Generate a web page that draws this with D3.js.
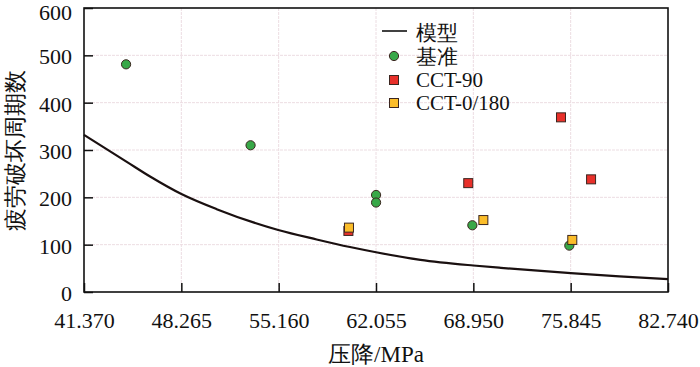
<!DOCTYPE html>
<html>
  <head>
    <title></title>
    <meta charset="UTF-8" />
    <script src="https://cdn.jsdelivr.net/npm/d3@7"></script>
    <style>
      body { margin: 0; background: #fff; }
      svg { font-family: "Liberation Serif", "Times New Roman", serif; }
    </style>
  </head>
  <body>
    <svg width="700" height="367"></svg>
    <script>
      // 数据
      const xTicks = [41.37, 48.265, 55.16, 62.055, 68.95, 75.845, 82.74]
      const yTicks = [0, 100, 200, 300, 400, 500, 600]

      // 模型曲线
      const modelX = [41.37, 44.4, 46.05, 48.27, 50.77, 55.13, 57.85, 60.21, 62.06, 65.2, 68.95, 70.9, 75.85, 79.3, 82.74]
      const modelY = [332, 275, 244, 207, 175, 131, 111, 95, 84, 68, 56, 51, 40, 33, 27]

      // 基准
      const baseX = [44.35, 53.17, 62.06, 62.06, 68.88, 75.75]
      const baseY = [481, 310, 205, 189, 141, 98]
      // CCT-90
      const cct90X = [60.1, 68.59, 75.16, 77.29]
      const cct90Y = [129, 230, 369, 238]
      // CCT-0/180
      const cct0X = [60.14, 69.66, 75.96]
      const cct0Y = [136, 152, 110]

      const marge = { top: 8, left: 84, right: 32, bottom: 75 }
      const svg = d3.select("svg")
      const width = +svg.attr("width") - marge.left - marge.right
      const height = +svg.attr("height") - marge.top - marge.bottom
      const g = svg.append("g").attr("transform", "translate(" + marge.left + "," + marge.top + ")")

      const xScale = d3.scaleLinear().domain([41.37, 82.74]).range([0, width])
      const yScale = d3.scaleLinear().domain([0, 600]).range([height, 0])

      // 网格
      const gridColor = "#ecdde2"
      g.selectAll(".hgrid")
        .data(yTicks.slice(1, -1))
        .enter()
        .append("line")
        .attr("x1", 0)
        .attr("x2", width)
        .attr("y1", (d) => yScale(d))
        .attr("y2", (d) => yScale(d))
        .attr("stroke", gridColor)
        .attr("stroke-dasharray", "3,1")
      g.selectAll(".vgrid")
        .data(xTicks.slice(1, -1))
        .enter()
        .append("line")
        .attr("x1", (d) => xScale(d))
        .attr("x2", (d) => xScale(d))
        .attr("y1", 0)
        .attr("y2", height)
        .attr("stroke", gridColor)
        .attr("stroke-dasharray", "3,1")

      // 坐标轴（刻度朝内）
      const xAxis = d3.axisBottom(xScale).tickValues(xTicks).tickFormat(d3.format(".3f")).tickSizeInner(-9).tickSizeOuter(0).tickPadding(20)
      const yAxis = d3.axisLeft(yScale).tickValues(yTicks).tickSizeInner(-9).tickSizeOuter(0).tickPadding(12)
      const gx = g.append("g").attr("transform", "translate(0," + height + ")").call(xAxis)
      const gy = g.append("g").call(yAxis)
      ;[gx, gy].forEach((a) => {
        a.attr("font-family", null)
        a.select(".domain").remove()
        a.selectAll(".tick line").attr("stroke", "#111").attr("stroke-width", 1.5)
        a.selectAll(".tick text").attr("font-size", 22).attr("fill", "#111")
      })
      // 顶端的 600 稍微下移，避免被裁掉
      gy.selectAll(".tick text").attr("dy", (d) => (d === 600 ? "0.5em" : "0.38em"))

      // 模型曲线
      const line = d3.line()
        .x((d, i) => xScale(modelX[i]))
        .y((d) => yScale(d))
        .curve(d3.curveMonotoneX)
      g.append("path")
        .datum(modelY)
        .attr("d", line)
        .attr("fill", "none")
        .attr("stroke", "#1a1010")
        .attr("stroke-width", 2.2)

      const edge = "#3b2620"
      // 基准
      g.selectAll(".base")
        .data(baseY)
        .enter()
        .append("circle")
        .attr("cx", (d, i) => xScale(baseX[i]))
        .attr("cy", (d) => yScale(d))
        .attr("r", 4.6)
        .attr("fill", "#38a848")
        .attr("stroke", edge)
        .attr("stroke-width", 1)
      // CCT-90
      const sq = 9
      g.selectAll(".c90")
        .data(cct90Y)
        .enter()
        .append("rect")
        .attr("x", (d, i) => xScale(cct90X[i]) - sq / 2)
        .attr("y", (d) => yScale(d) - sq / 2)
        .attr("width", sq)
        .attr("height", sq)
        .attr("fill", "#e8302a")
        .attr("stroke", edge)
        .attr("stroke-width", 1)
      // CCT-0/180
      g.selectAll(".c0")
        .data(cct0Y)
        .enter()
        .append("rect")
        .attr("x", (d, i) => xScale(cct0X[i]) - sq / 2)
        .attr("y", (d) => yScale(d) - sq / 2)
        .attr("width", sq)
        .attr("height", sq)
        .attr("fill", "#fbbd2a")
        .attr("stroke", edge)
        .attr("stroke-width", 1)

      // 边框
      g.append("rect")
        .attr("width", width)
        .attr("height", height)
        .attr("fill", "none")
        .attr("stroke", "#111")
        .attr("stroke-width", 1.6)

      // 图例
      const lg = svg.append("g").attr("transform", "translate(382,0)")
      lg.append("line").attr("x1", 0).attr("x2", 25).attr("y1", 31).attr("y2", 31).attr("stroke", "#111").attr("stroke-width", 1.6)
      lg.append("circle").attr("cx", 12).attr("cy", 56).attr("r", 4.6).attr("fill", "#38a848").attr("stroke", edge)
      lg.append("rect").attr("x", 12 - sq / 2).attr("y", 80 - sq / 2).attr("width", sq).attr("height", sq).attr("fill", "#e8302a").attr("stroke", edge)
      lg.append("rect").attr("x", 12 - sq / 2).attr("y", 103 - sq / 2).attr("width", sq).attr("height", sq).attr("fill", "#fbbd2a").attr("stroke", edge)
      const legendText = ["模型", "基准", "CCT-90", "CCT-0/180"]
      lg.selectAll(".lt")
        .data(legendText)
        .enter()
        .append("text")
        .attr("x", 34)
        .attr("y", (d, i) => 33 + i * 23.3)
        .attr("dy", "0.35em")
        .attr("font-size", 21)
        .attr("fill", "#111")
        .text((d) => d)

      // 轴标题
      svg.append("text")
        .attr("transform", "translate(23,150) rotate(-90)")
        .attr("text-anchor", "middle")
        .attr("font-size", 23)
        .attr("fill", "#111")
        .text("疲劳破坏周期数")
      svg.append("text")
        .attr("x", 376)
        .attr("y", 362)
        .attr("text-anchor", "middle")
        .attr("font-size", 23)
        .attr("fill", "#111")
        .text("压降/MPa")
    </script>
  </body>
</html>
